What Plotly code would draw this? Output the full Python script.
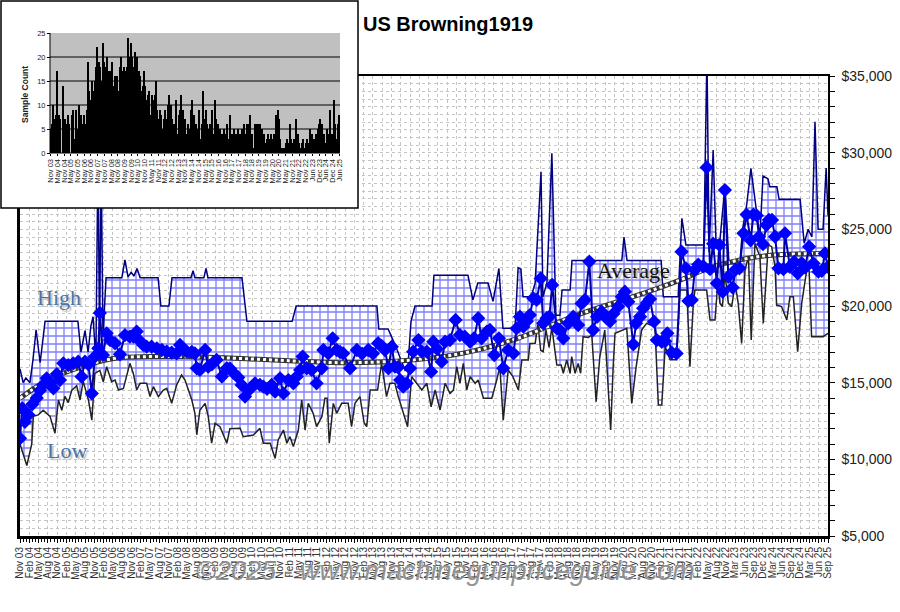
import plotly.graph_objects as go

W, H = 900, 612

# ---------------- data (x = month index from Nov 03) ----------------
HIGH_X = [0.0, 1.0, 1.9, 3.2, 4.2, 5.2, 6.5, 8.1, 18.7, 19.7, 21.0, 22.0, 22.9, 23.6, 24.5, 25.2, 25.7, 26.2, 26.8,
          27.8, 32.9, 33.9, 34.9, 35.9, 36.8, 37.8, 38.8, 44.6, 45.5, 48.1, 49.1, 55.2, 55.9, 56.5, 59.4, 60.1, 60.7,
          71.7, 73.3, 87.9, 89.2, 115.3, 115.9, 118.9, 121.1, 122.7, 124.4, 125.3, 126.3, 127.6, 133.1, 133.7, 144.7,
          146.3, 147.9, 151.2, 152.8, 154.7, 156.0, 159.9, 160.9, 161.8, 162.5, 165.1, 166.4, 168.3, 168.9, 170.2,
          171.8, 173.1, 174.4, 175.1, 177.7, 178.3, 194.4, 195.1, 196.1, 207.1, 207.8, 212.6, 213.8, 215.1, 220.9,
          221.9, 222.6, 223.9, 224.8, 226.1, 227.7, 229.0, 232.5, 233.4, 234.8, 236.1, 238.0, 239.0, 240.0, 241.6,
          242.2, 244.5, 245.2, 252.0, 253.3, 254.6, 255.8, 256.8, 257.8, 259.4, 260.4, 261.0]
HIGH_Y = [15900, 15000, 15300, 15000, 16500, 18450, 16300, 19000, 19000, 17000, 18400, 17000, 18700, 19300, 16500, 30000, 17500, 30000, 18000,
          21850, 21850, 23000, 21900, 22200, 21950, 22450, 21850, 21850, 20000, 20000, 21850, 21850, 22300, 21850, 21850, 22450, 21850,
          21850, 19000, 19000, 20000, 20000, 18500, 18500, 17500, 16700, 15800, 16000, 19000, 20000, 20000, 22000, 22000,
          20400, 21500, 21500, 20300, 22450, 18550, 18550, 22500, 22400, 20600, 20600, 21500, 28760, 20600, 21500,
          29960, 19400, 19400, 21050, 21050, 22960, 22960, 24500, 22960, 22960, 20600, 20600, 25720, 23980, 23980,
          36500, 23500, 30170, 24300, 24300, 27800, 22800, 22700, 25000, 26700, 28980, 26040, 24500, 28480, 28300,
          27780, 27780, 26960, 26960, 24090, 25000, 24500, 32020, 25000, 25000, 29000, 25900]

LOW_X = [0.0, 2.2, 3.8, 4.3, 5.9, 7.5, 9.7, 11.3, 12.4, 13.5, 14.5, 15.6, 16.7, 18.3, 19.4, 20.4, 22.1, 23.2, 24.2, 25.8,
         26.9, 28.0, 29.6, 30.7, 31.8, 33.4, 35.5, 36.6, 37.7, 38.8, 40.9, 42.0, 43.1, 44.7, 46.3, 47.4, 49.0, 50.6, 52.2,
         53.3, 55.5, 56.5, 57.1, 58.1, 59.8, 60.8, 61.9, 63.0, 64.6, 66.8, 67.8, 71.1, 72.1, 75.4, 77.5, 78.6, 80.8, 82.4,
         83.4, 85.1, 86.2, 87.2, 88.3, 89.9, 91.0, 92.1, 93.1, 94.7, 95.8, 97.5, 98.5, 99.2, 99.9, 100.8, 101.2, 102.3,
         103.9, 106.0, 107.1, 108.2, 109.8, 111.2, 112.0, 113.1, 115.5, 116.8, 118.4, 119.5, 121.1, 122.2, 123.8, 125.2,
         126.5, 128.1, 129.8, 131.4, 132.8, 134.1, 135.7, 137.3, 138.9, 140.0, 141.1, 142.1, 143.2, 144.3, 145.4, 147.0,
         148.0, 149.7, 152.4, 154.0, 155.0, 156.1, 157.7, 159.2, 161.0, 162.1, 164.2, 164.7, 166.4, 167.3, 168.2, 169.0,
         169.9, 170.9, 171.8, 173.4, 174.8, 175.5, 176.6, 177.7, 178.2, 179.3, 180.3, 181.1, 181.9, 183.6, 184.7, 186.1,
         187.3, 188.9, 189.8, 190.8, 191.6, 192.2, 196.0, 197.6, 199.0, 200.8, 202.4, 205.1, 206.2, 207.3, 208.4, 210.0,
         212.1, 213.2, 215.4, 215.8, 216.4, 217.5, 218.0, 221.8, 222.9, 224.5, 225.4, 226.1, 226.9, 227.7, 228.8, 229.9,
         231.0, 232.0, 233.1, 234.2, 235.3, 236.2, 237.4, 239.0, 240.1, 241.7, 242.8, 243.9, 244.4, 246.0, 247.7, 248.7,
         249.8, 251.2, 252.5, 254.1, 254.9, 255.7, 259.4, 261.0]
LOW_Y = [11000, 9600, 11000, 12800, 12900, 13200, 12800, 11700, 13870, 13200, 14100, 13700, 14500, 14800, 13870, 15100, 13870, 12560, 15600, 15800,
         15060, 16040, 15060, 15170, 14520, 14630, 16260, 15600, 14520, 14960, 14960, 14090, 14740, 14090, 14520, 14630, 13650, 14850, 15500,
         15170, 13870, 13000, 11600, 13200, 13650, 12800, 11050, 12350, 12130, 11050, 12000, 12020, 11480, 11590, 12020, 11050, 11050, 10070,
         11260, 11910, 11050, 11480, 10830, 11910, 13870, 11910, 13650, 13000, 12130, 12780, 13980, 13980, 11050, 12800, 13650, 13000,
         13650, 13650, 12130, 13650, 14090, 12350, 12130, 14520, 14520, 16260, 14090, 14960, 14960, 14090, 13000, 12130,
         15390, 14960, 14520, 14960, 13430, 14520, 13220, 14960, 14300, 14520, 16040, 14960, 16260, 14520, 15390, 14960,
         15170, 13980, 13980, 15170, 16040, 12560, 15830, 15400, 14520, 16480, 16480, 17560, 17560, 18800, 17100, 17020,
         18430, 17300, 18600, 16150, 16150, 15610, 16480, 15610, 16700, 15610, 16250, 15610, 18000, 17950, 18100, 13760,
         16690, 18430, 15000, 11910, 16000, 18220, 18540, 13650, 16000, 18430, 18870, 18650, 13540, 13540, 17350, 16500,
         16500, 21040, 21040, 18430, 16040, 20170, 21040, 21040, 19090, 19090, 21500, 20170, 19960, 22130, 20170, 19960,
         21480, 20170, 17560, 22350, 23220, 17780, 24090, 23220, 18870, 23980, 23870, 22560, 20060, 19960, 19090, 20610,
         20610, 17020, 20170, 22300, 22350, 18000, 18000, 18220]

AVG_X = [0.0, 0.7, 1.6, 2.7, 4.0, 5.4, 6.5, 7.5, 8.6, 9.7, 10.8, 11.9, 12.9, 14.0, 15.6, 17.2, 18.8, 19.9, 21.0, 22.1,
         23.2, 24.2, 25.3, 25.8, 26.8, 28.0, 29.1, 30.7, 32.3, 33.9, 35.5, 36.6, 37.7, 38.8, 39.8, 40.9, 42.5, 44.2, 45.8,
         47.4, 49.0, 50.6, 51.7, 53.9, 55.5, 56.5, 57.1, 58.1, 59.8, 60.8, 62.0, 63.5, 65.2, 66.8, 67.8, 68.9, 70.5, 71.6,
         72.7, 74.3, 75.9, 77.5, 78.6, 79.8, 81.3, 82.4, 84.0, 85.1, 86.7, 88.3, 89.4, 90.5, 91.3, 92.6, 94.2, 95.8, 97.5,
         98.0, 99.6, 101.0, 102.3, 103.4, 104.4, 106.6, 108.8, 110.5, 112.5, 114.0, 115.7, 116.8, 117.9, 119.0, 120.1,
         121.1, 122.1, 122.8, 123.8, 124.9, 126.0, 127.0, 128.7, 129.8, 131.4, 132.8, 133.5, 134.7, 136.2, 137.3, 138.9,
         140.7, 142.1, 143.7, 145.4, 146.7, 148.0, 149.1, 150.8, 151.8, 153.2, 154.7, 156.1, 157.7, 159.4, 160.4, 161.5,
         162.6, 163.7, 164.7, 165.8, 166.9, 168.2, 169.0, 170.1, 171.0, 171.9, 173.4, 174.4, 175.5, 177.1, 178.7, 180.3,
         181.4, 182.5, 183.9, 185.1, 186.4, 187.9, 189.5, 190.6, 191.7, 193.2, 194.4, 195.4, 196.5, 198.1, 199.0, 200.3,
         201.3, 202.5, 203.5, 204.8, 205.7, 207.3, 208.4, 209.1, 210.5, 212.1, 213.7, 215.1, 215.9, 217.0, 218.0, 219.1,
         220.7, 221.8, 222.9, 223.9, 225.1, 225.9, 227.0, 227.7, 228.8, 230.2, 231.1, 232.4, 233.7, 234.7, 236.0, 236.9,
         238.0, 238.7, 240.0, 241.1, 241.9, 242.9, 243.9, 245.0, 246.6, 247.1, 248.7, 250.1, 251.2, 252.5, 253.6, 254.9,
         256.3, 257.9, 259.0, 260.0, 261.0]
AVG_Y = [11370, 13330, 12450, 12900, 13600, 14000, 14500, 14850, 15280, 14960, 14630, 15560, 15170, 16260, 16150, 16260, 16370, 15390, 16370, 16200,
         14300, 16700, 17240, 19550, 16800, 18220, 17780, 17570, 16850, 18100, 18000, 18000, 18330, 17700, 17460, 17350, 17350, 17240, 17130,
         17020, 16960, 16910, 17460, 17020, 17000, 16910, 15940, 15830, 17130, 16040, 16200, 16480, 15400, 15940, 15930, 15650, 15340, 14850,
         14090, 14580, 14960, 14850, 14740, 14600, 14850, 14410, 15280, 14300, 15170, 14960, 15400, 15830, 16700, 15940, 15830, 14960, 15940,
         17130, 16910, 17890, 17130, 17000, 16910, 15940, 17130, 16900, 17130, 16900, 17570, 17400, 17130, 15940, 17350,
         16040, 16000, 15170, 14740, 14960, 15940, 17020, 17780, 17020, 17020, 15720, 17670, 17200, 16370, 17670, 17780,
         19090, 18110, 18000, 17670, 17900, 19200, 17890, 18330, 18440, 16800, 17890, 15940, 17130, 16910, 18540, 19300,
         18650, 19000, 19410, 20500, 20400, 21800, 18870, 19200, 19300, 21370, 18540, 18430, 17890, 18870, 19300, 18760,
         20170, 20390, 22900, 18430, 19300, 19630, 19200, 19000, 19500, 19960, 20610, 20930, 20280, 17500, 18870, 19300,
         19850, 20200, 20450, 18980, 17780, 17670, 17700, 18220, 16960, 16910, 23540, 22460, 20330, 20390, 22350, 22700,
         22600, 29040, 22400, 24060, 21480, 23980, 20930, 27560, 21910, 21200, 22370, 22460, 24740, 25960, 24280, 25960,
         25900, 24520, 24030, 25280, 25610, 25610, 24520, 22460, 22400, 24740, 22560, 22890, 22130, 22800, 22500, 23870,
         22780, 22240, 22300, 23430, 22560]

TREND_X = [0, 9.0, 20.0, 30.7, 42.0, 52.3, 74.3, 90.5, 105.6, 126.6, 142.8, 159.9, 179.9, 201.3, 213.2, 222.3, 233.3, 243.9, 261]
TREND_Y = [13980, 15170, 16040, 16590, 16700, 16700, 16550, 16400, 16300, 16480, 16910, 17830, 19410, 20825, 21690, 22450, 23040, 23330, 23430]

SAMPLE_COUNT = [5, 6, 10, 7, 8, 17, 8, 7, 0, 14, 7, 7, 6, 8, 6, 0, 8, 9, 3, 9, 5, 10, 5, 8, 6, 8, 6, 9,
                19, 13, 11, 15, 13, 15, 18, 22, 19, 18, 15, 23, 19, 18, 20, 14, 17, 17, 19, 14, 16, 13, 16, 13, 18, 20,
                17, 18, 17, 18, 24, 20, 23, 20, 18, 21, 15, 20, 17, 16, 13, 14, 17, 14, 11, 12, 13, 8, 12, 11, 12, 15,
                9, 7, 9, 8, 5, 7, 9, 7, 10, 12, 10, 7, 6, 6, 11, 4, 8, 9, 12, 9, 6, 7, 4, 6, 5, 9, 11, 8, 6, 6, 5, 9, 3,
                6, 13, 7, 9, 6, 5, 6, 4, 9, 4, 11, 7, 6, 4, 5, 4, 3, 5, 4, 6, 3, 8, 3, 4, 5, 4, 4, 5, 4, 4, 5, 4, 6, 4,
                6, 6, 8, 4, 4, 1, 6, 6, 6, 4, 6, 5, 3, 4, 2, 3, 4, 3, 4, 3, 4, 3, 8, 9, 7, 3, 1, 0, 1, 2, 3, 2, 6, 3, 2,
                3, 2, 7, 4, 2, 1, 2, 3, 1, 2, 3, 2, 5, 2, 4, 3, 2, 4, 5, 6, 7, 6, 3, 4, 2, 5, 4, 9, 3, 4, 11, 6, 3, 6, 8]

MONTHS = ['Jan', 'Feb', 'Mar', 'Apr', 'May', 'Jun', 'Jul', 'Aug', 'Sep', 'Oct', 'Nov', 'Dec']


def month_labels(start, end, step):
    out = []
    y, m = start
    while (y, m) <= end:
        out.append(f"{MONTHS[m - 1]} {y % 100:02d}")
        m += step
        if m > 12:
            m -= 12
            y += 1
    return out


X_LABELS = month_labels((2003, 11), (2022, 11), 3) + month_labels((2023, 3), (2025, 9), 3)
INSET_LABELS = month_labels((2003, 11), (2022, 11), 6) + month_labels((2023, 6), (2025, 6), 6)
Y_TICKS = list(range(5000, 35001, 1000))
Y_TEXT = [f"${v:,}" if v % 5000 == 0 else "" for v in Y_TICKS]

# ---------------- figure ----------------
fig = go.Figure()

# high/low band
fig.add_trace(go.Scatter(
    x=HIGH_X + LOW_X[::-1], y=HIGH_Y + LOW_Y[::-1], mode='lines', fill='toself',
    line=dict(width=0), fillcolor='rgba(0,0,0,0)',
    fillpattern=dict(shape='+', fgcolor='#0000ff', bgcolor='white', size=8, solidity=0.3),
    hoverinfo='skip'))
fig.add_trace(go.Scatter(x=LOW_X, y=LOW_Y, mode='lines', line=dict(color='#222222', width=1.5)))
fig.add_trace(go.Scatter(x=HIGH_X, y=HIGH_Y, mode='lines', line=dict(color='#000080', width=1.5)))
# trend
fig.add_trace(go.Scatter(x=TREND_X, y=TREND_Y, mode='lines', line=dict(color='#333333', width=5, shape='spline')))
fig.add_trace(go.Scatter(x=TREND_X, y=TREND_Y, mode='lines',
                         line=dict(color='white', width=3, dash='dot', shape='spline')))
# average
fig.add_trace(go.Scatter(x=AVG_X, y=AVG_Y, mode='lines+markers',
                         line=dict(color='#0000a8', width=2),
                         marker=dict(symbol='diamond', size=11, color='#0000ff', line=dict(width=0))))
# frame helper (overlay axes)
fig.add_trace(go.Scatter(x=[], y=[], xaxis='x3', yaxis='y3'))

# inset bars
N = len(SAMPLE_COUNT)
fig.add_trace(go.Bar(x=list(range(N)), y=SAMPLE_COUNT, xaxis='x2', yaxis='y2',
                     marker=dict(color='black', line=dict(width=0)), width=1.0))

# inset geometry
in_l, in_r, box_r = 50, 340, 358
sx = (in_r - in_l) / N
x2_range = [-0.5 - in_l / sx, N - 0.5 + (box_r - in_r) / sx]
in_t, in_b, box_b = 33, 153, 208
sy = (in_b - in_t) / 25
y2_range = [-(box_b - in_b) / sy, 25 + in_t / sy]
inset_tickvals = [k * (N - 1) / (len(INSET_LABELS) - 1) for k in range(len(INSET_LABELS))]

grid_c = '#c4c4c4'
fig.update_layout(
    width=W, height=H, margin=dict(l=0, r=0, t=0, b=0, autoexpand=False),
    paper_bgcolor='white', plot_bgcolor='white', showlegend=False,
    bargap=0,
    xaxis=dict(domain=[20 / W, 828 / W], range=[0, 261], anchor='y', automargin=False,
               tickmode='array', tickvals=[3 * k for k in range(len(X_LABELS))], ticktext=X_LABELS,
               tickangle=-90, tickfont=dict(family='Arial, Liberation Sans', size=10, color='#333'),
               ticks='outside', ticklen=4, tickcolor='black',
               showline=True, linewidth=3, linecolor='black',
               showgrid=True, gridcolor=grid_c, griddash='dot', gridwidth=1, zeroline=False,
               minor=dict(dtick=1, tick0=0, ticks='outside', ticklen=3, tickcolor='black', showgrid=False)),
    yaxis=dict(domain=[1 - 536 / H, 1 - 76 / H], range=[5000, 35000], anchor='x', side='right', automargin=False,
               tickmode='array', tickvals=Y_TICKS, ticktext=Y_TEXT,
               tickfont=dict(family='Arial, Liberation Sans', size=14, color='#222'),
               ticks='outside', ticklen=5, tickcolor='black', ticklabelstandoff=4,
               showline=True, linewidth=1.5, linecolor='black',
               showgrid=True, gridcolor=grid_c, griddash='dot', zeroline=False,
               minor=dict(dtick=500, tick0=5000, ticks='', showgrid=True, gridcolor=grid_c, griddash='dot')),
    xaxis3=dict(overlaying='x', side='top', anchor='y', range=[0, 261], showline=True, linewidth=1.5,
                linecolor='black', showticklabels=False, ticks='', showgrid=False, zeroline=False),
    yaxis3=dict(overlaying='y', side='left', anchor='x', range=[5000, 35000], showline=True, linewidth=3,
                linecolor='black', showticklabels=False, ticks='', showgrid=False, zeroline=False),
    xaxis2=dict(domain=[0, box_r / W], anchor='free', position=1 - in_b / H, range=x2_range, automargin=False,
                tickmode='array', tickvals=inset_tickvals, ticktext=INSET_LABELS, tickangle=-90,
                tickfont=dict(family='Arial, Liberation Sans', size=7.5, color='#222'),
                ticks='outside', ticklen=2, tickcolor='black', showline=False, showgrid=False, zeroline=False),
    yaxis2=dict(domain=[1 - box_b / H, 1], anchor='free', position=in_l / W, range=y2_range, automargin=False,
                tickmode='array', tickvals=[0, 5, 10, 15, 20, 25],
                tickfont=dict(family='Arial, Liberation Sans', size=7.5, color='#222'),
                ticks='outside', ticklen=3, tickcolor='black', showline=False, showgrid=False, zeroline=False),
)

shapes = [
    dict(type='rect', xref='x2', yref='y2', x0=-0.5, x1=N - 0.5, y0=0, y1=25,
         fillcolor='#c0c0c0', line=dict(width=0), layer='below'),
]
for g in [5, 10, 15, 20]:
    shapes.append(dict(type='line', xref='x2', yref='y2', x0=-0.5, x1=N - 0.5, y0=g, y1=g,
                       line=dict(color='black', width=1), layer='below'))
shapes.append(dict(type='line', xref='x2', yref='y2', x0=-0.5, x1=-0.5, y0=0, y1=25,
                   line=dict(color='black', width=1), layer='above'))
shapes.append(dict(type='line', xref='x2', yref='y2', x0=-0.5, x1=N - 0.5, y0=0, y1=0,
                   line=dict(color='black', width=1), layer='above'))
shapes.append(dict(type='rect', xref='paper', yref='paper', x0=1 / W, x1=box_r / W, y0=1 - box_b / H, y1=1 - 1 / H,
                   line=dict(color='black', width=1.5), fillcolor='rgba(0,0,0,0)', layer='above'))
fig.update_layout(shapes=shapes)

serif = 'Liberation Serif, Times New Roman, serif'
ann = [
    dict(x=448 / W, y=1 - 24 / H, text='<b>US Browning1919</b>',
         font=dict(family='Arial, Liberation Sans', size=20, color='black')),
    dict(x=59 / W, y=1 - 297 / H, text='High',
         font=dict(family=serif, size=22, color='#4a74a8', shadow='2px 2px 1px #c4c4c4')),
    dict(x=67 / W, y=1 - 450 / H, text='Low',
         font=dict(family=serif, size=22, color='#4a74a8', shadow='2px 2px 1px #c4c4c4')),
    dict(x=633 / W, y=1 - 270 / H, text='Average',
         font=dict(family=serif, size=22, color='#111111', shadow='2px 2px 1px #b8b8b8')),
    dict(x=445 / W, y=1 - 571 / H, text='<i>©2025 - www.machinegunpriceguide.com</i>',
         font=dict(family='Arial, Liberation Sans', size=27, color='rgba(135,135,135,0.9)',
                   shadow='1px 1px 1px rgba(255,255,255,0.8)')),
    dict(x=25 / W, y=1 - 95 / H, text='<b>Sample Count</b>', textangle=-90,
         font=dict(family='Arial, Liberation Sans', size=8.5, color='#222')),
]
for a in ann:
    a.update(xref='paper', yref='paper', showarrow=False, xanchor='center', yanchor='middle')
fig.update_layout(annotations=ann)

fig.write_html("out.html")
